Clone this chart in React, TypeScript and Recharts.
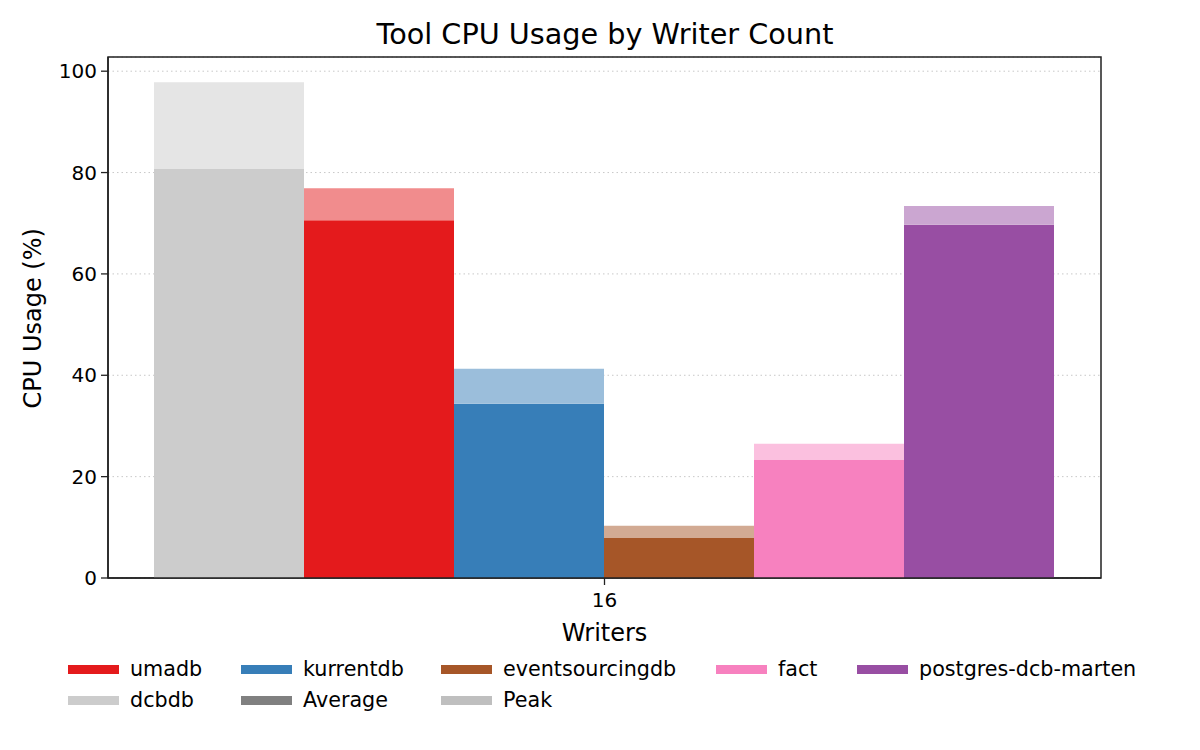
import { Bar, BarChart, CartesianGrid, ReferenceArea, XAxis, YAxis } from "recharts";

const tools = ["dcbdb", "umadb", "kurrentdb", "eventsourcingdb", "fact", "postgres-dcb-marten"];
const avgCpu = [80.7, 70.6, 34.4, 7.9, 23.4, 69.7];
const peakCpu = [97.8, 76.9, 41.3, 10.3, 26.5, 73.4];
const avgColors = ["#cccccc", "#e41a1c", "#377eb8", "#a65628", "#f781bf", "#984ea3"];
const peakColors = ["#e5e5e5", "#f18c8d", "#9bbedb", "#d2aa93", "#fbc0df", "#cba6d1"];
const yTicks = [0, 20, 40, 60, 80, 100];
const yMax = 102.8;

const legendRows = [
  [
    { name: "umadb", color: "#e41a1c" },
    { name: "kurrentdb", color: "#377eb8" },
    { name: "eventsourcingdb", color: "#a65628" },
    { name: "fact", color: "#f781bf" },
    { name: "postgres-dcb-marten", color: "#984ea3" },
  ],
  [
    { name: "dcbdb", color: "#cccccc" },
    { name: "Average", color: "#808080" },
    { name: "Peak", color: "#bfbfbf" },
  ],
];
const legendCols = [68, 241, 441, 716, 857];

// one row per writer count; peak drawn as the part above the average
const row: Record<string, string | number> = { writers: "16" };
tools.forEach((t, i) => {
  row[`${t}_avg`] = avgCpu[i];
  row[`${t}_peak`] = peakCpu[i] - avgCpu[i];
});
const data = [row];

const font = "DejaVu Sans, sans-serif";

export default function App() {
  return (
    <div style={{ position: "absolute", left: 0, top: 0, width: 1200, height: 750, fontFamily: font, background: "#fff" }}>
      <div style={{ position: "absolute", top: 17, width: 1210, textAlign: "center", fontSize: 28.7, lineHeight: "34px", color: "#000" }}>
        Tool CPU Usage by Writer Count
      </div>
      <BarChart
        width={1200}
        height={750}
        data={data}
        margin={{ top: 57, right: 99, bottom: 132, left: 0 }}
        barCategoryGap={46}
        barGap={0}
      >
        <CartesianGrid vertical={false} stroke="#c8c8c8" strokeDasharray="1.5 3" />
        <XAxis
          dataKey="writers"
          height={40}
          tickSize={7}
          tickMargin={8}
          tick={{ fill: "#000", fontSize: 20, fontFamily: font }}
          tickLine={{ stroke: "#222", strokeWidth: 1.3 }}
          axisLine={{ stroke: "#222", strokeWidth: 1.5 }}
          label={{ value: "Writers", position: "insideBottom", offset: -23, fill: "#000", fontSize: 24, fontFamily: font }}
        />
        <YAxis
          width={108}
          domain={[0, yMax]}
          ticks={yTicks}
          tickSize={7}
          tickMargin={4}
          tick={{ fill: "#000", fontSize: 20, fontFamily: font }}
          tickLine={{ stroke: "#222", strokeWidth: 1.3 }}
          axisLine={{ stroke: "#222", strokeWidth: 1.5 }}
          label={{ value: "CPU Usage (%)", angle: -90, position: "insideLeft", offset: 32, dy: 91, fill: "#000", fontSize: 24, fontFamily: font }}
        />
        {tools.flatMap((t, i) => [
          <Bar key={`${t}_avg`} dataKey={`${t}_avg`} stackId={t} fill={avgColors[i]} isAnimationActive={false} />,
          <Bar key={`${t}_peak`} dataKey={`${t}_peak`} stackId={t} fill={peakColors[i]} isAnimationActive={false} />,
        ])}
        <ReferenceArea y1={0} y2={yMax} fill="none" stroke="#222" strokeWidth={1.5} ifOverflow="visible" />
      </BarChart>
      {legendRows.map((items, r) =>
        items.map((it, c) => (
          <div
            key={it.name}
            style={{ position: "absolute", left: legendCols[c], top: 656 + r * 31, height: 26, display: "flex", alignItems: "center", fontSize: 20.7, color: "#000" }}
          >
            <span style={{ display: "inline-block", width: 51, height: 9, background: it.color, marginRight: 11 }} />
            {it.name}
          </div>
        ))
      )}
    </div>
  );
}
